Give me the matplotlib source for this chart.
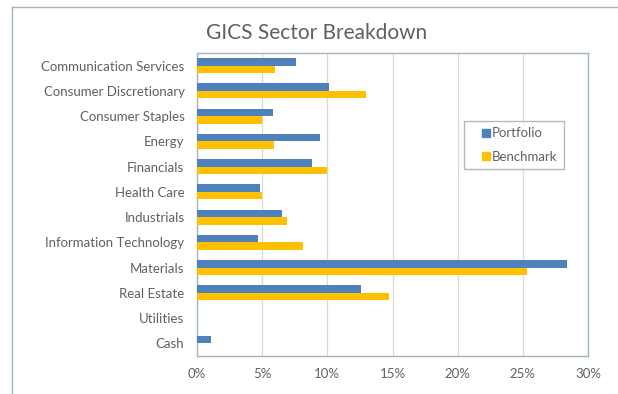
import matplotlib
matplotlib.use("Agg")
import matplotlib.pyplot as plt
import numpy as np
from matplotlib.lines import Line2D
from matplotlib.ticker import FuncFormatter

categories = ["Communication Services", "Consumer Discretionary", "Consumer Staples",
              "Energy", "Financials", "Health Care", "Industrials",
              "Information Technology", "Materials", "Real Estate", "Utilities", "Cash"]
portfolio = [7.6, 10.1, 5.8, 9.4, 8.8, 4.8, 6.5, 4.7, 28.4, 12.6, 0.0, 1.1]
benchmark = [6.0, 13.0, 5.0, 5.9, 10.0, 5.0, 6.9, 8.1, 25.3, 14.7, 0.0, 0.0]
xticks = [0, 5, 10, 15, 20, 25, 30]

plt.rcParams['font.family'] = ['Lato', 'DejaVu Sans']
text_color = "#606060"
blue = "#4F81BD"
gold = "#FFC000"

fig = plt.figure(figsize=(6.18, 3.94), dpi=100)
ax = fig.add_axes([197/618, 1-356/394, (588-197)/618, (356-53)/394])

y = np.arange(len(categories))
h = 0.3
ax.barh(y - h/2, portfolio, height=h, color=blue, label="Portfolio", zorder=3)
ax.barh(y + h/2, benchmark, height=h, color=gold, label="Benchmark", zorder=3)

ax.set_ylim(len(categories) - 0.5, -0.5)
ax.set_xlim(0, 30)
ax.set_xticks(xticks)
ax.xaxis.set_major_formatter(FuncFormatter(lambda v, p: f"{int(v)}%"))
ax.set_yticks(y)
ax.set_yticklabels(categories)
ax.tick_params(axis='both', length=0, colors=text_color, labelsize=9.5)
ax.tick_params(axis='y', pad=9)
ax.tick_params(axis='x', pad=9)
ax.grid(axis='x', color="#D9D9D9", linewidth=0.9, zorder=0)
for s in ax.spines.values():
    s.set_color("#9FB6C6")
    s.set_linewidth(1.0)

fig.text(317/618, 1-33/394, "GICS Sector Breakdown", ha='center', va='center',
         fontsize=15, color=text_color)

# outer frame lines (left and top)
fig.add_artist(Line2D([12/618, 12/618], [0, 1-7/394], transform=fig.transFigure,
                      color="#9FB6C6", linewidth=1.0))
fig.add_artist(Line2D([12/618, 1], [1-7/394, 1-7/394], transform=fig.transFigure,
                      color="#9FB6C6", linewidth=1.0))

handles = [Line2D([], [], marker='s', linestyle='', color=blue, markersize=5.5),
           Line2D([], [], marker='s', linestyle='', color=gold, markersize=5.5)]
leg = ax.legend(handles, ["Portfolio", "Benchmark"], loc='center',
                bbox_to_anchor=((461+567)/2/618, 1-145/394),
                bbox_transform=fig.transFigure, frameon=True, fancybox=False,
                fontsize=9.5, handlelength=2.4, handletextpad=-0.75,
                labelspacing=0.85, borderpad=0.45, labelcolor=text_color)
leg.get_frame().set_edgecolor("#A6A6A6")
leg.get_frame().set_linewidth(1.0)

fig.savefig("out.png", dpi=100)
